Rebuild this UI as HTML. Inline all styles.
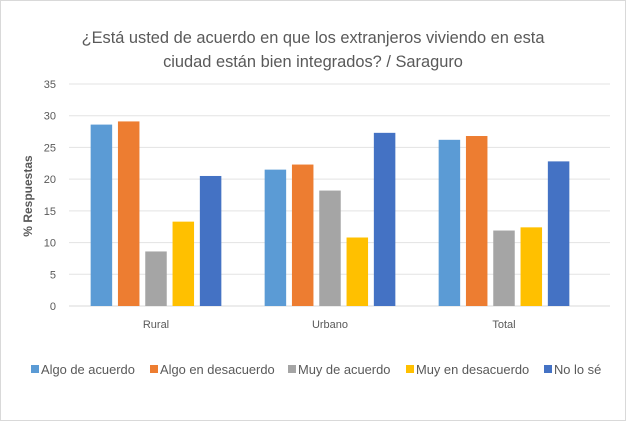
<!DOCTYPE html>
<html><head><meta charset="utf-8"><style>
body{margin:0;background:#fff;font-family:"Liberation Sans",sans-serif;}
#c{position:relative;width:624px;height:419px;border:1px solid #d9d9d9;overflow:hidden}
</style></head><body>
<div id="c">
<svg id="s" width="624" height="419"></svg>
</div>
<script>
const categories=["Rural","Urbano","Total"];
const seriesNames=["Algo de acuerdo","Algo en desacuerdo","Muy de acuerdo","Muy en desacuerdo","No lo sé"];
const algoAcuerdo=[28.6,21.5,26.2];
const algoDesacuerdo=[29.1,22.3,26.8];
const muyAcuerdo=[8.6,18.2,11.9];
const muyDesacuerdo=[13.3,10.8,12.4];
const noSe=[20.5,27.3,22.8];
const yTicks=[0,5,10,15,20,25,30,35];
const series=[algoAcuerdo,algoDesacuerdo,muyAcuerdo,muyDesacuerdo,noSe];
const colors=["#5b9bd5","#ed7d31","#a5a5a5","#ffc000","#4472c4"];
const NS="http://www.w3.org/2000/svg";
const svg=document.getElementById('s');
const x0=68,x1=609,y0=305,yTop=83;
const gx0=68,gw=174;
const y=v=>y0-(v/35)*(y0-yTop);
function mk(t,a,txt){const e=document.createElementNS(NS,t);for(const k in a)e.setAttribute(k,a[k]);if(txt!==undefined)e.textContent=txt;svg.appendChild(e);return e;}
let e;
e=mk('text',{x:312,y:42,'text-anchor':'middle','font-size':16.4,fill:'#595959'},'¿Está usted de acuerdo en que los extranjeros viviendo en esta');

e=mk('text',{x:312,y:66,'text-anchor':'middle','font-size':16.4,fill:'#595959'},'ciudad están bien integrados? / Saraguro');

yTicks.forEach(t=>{
 e=mk('line',{x1:x0,x2:x1,y1:y(t),y2:y(t),stroke:t===0?'#d9d9d9':'#e3e3e3','stroke-width':1});
 
 e=mk('text',{x:55,y:y(t)+4,'text-anchor':'end','font-size':11,fill:'#595959'},t);
 
});
e=mk('text',{x:0,y:0,'text-anchor':'middle','font-size':12,'font-weight':'bold',fill:'#595959',transform:'translate(31,195) rotate(-90)'},'% Respuestas');

const bw=21.5,step=27.3;
categories.forEach((c,i)=>{
 const cx=gx0+gw*(i+0.5);
 series.forEach((s,j)=>{
  const bx=cx-2*step-bw/2+j*step;
  e=mk('rect',{x:bx,y:y(s[i]),width:bw,height:y0-y(s[i]),fill:colors[j]});
  
 });
 e=mk('text',{x:cx,y:327,'text-anchor':'middle','font-size':11,fill:'#595959'},c);
 
});
const lx=[30,149,287,405,543];
seriesNames.forEach((n,j)=>{
 e=mk('rect',{x:lx[j],y:364,width:8,height:8,fill:colors[j]});
 
 e=mk('text',{x:lx[j]+10,y:373,'font-size':12.9,fill:'#595959'},n);
 
});
</script>
</body></html>
